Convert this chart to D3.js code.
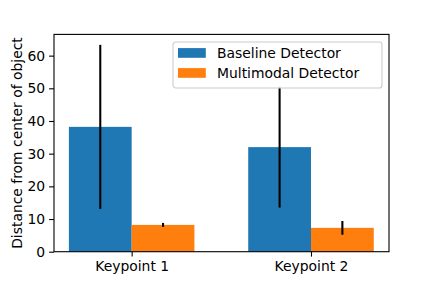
<!DOCTYPE html>
<html>
<head>
<meta charset="utf-8">
<script src="https://cdn.jsdelivr.net/npm/d3@7"></script>
<style>
  html, body { margin: 0; padding: 0; background: #fff; }
  svg { display: block; font-family: "DejaVu Sans", sans-serif; }
</style>
</head>
<body>
<svg id="chart" width="432" height="288"></svg>
<script>
	'use strict';

	//chart data
	var categories = ['Keypoint 1', 'Keypoint 2'],
		seriesNames = ['Baseline Detector', 'Multimodal Detector'],
		baselineMeans = [38.2, 32.0],
		baselineErrors = [25.1, 18.5],
		multimodalMeans = [8.2, 7.3],
		multimodalErrors = [0.6, 2.1],
		yTicks = [0, 10, 20, 30, 40, 50, 60],
		colors = ['#1f77b4', '#ff7f0e'];

	//layout
	var plotLeft = 54,
		plotRight = 389,
		plotTop = 34.4,
		plotBottom = 251.7,
		barWidth = 0.35,
		fontPx = 13.9;

	var svg = d3.select('#chart');

	var x = d3.scaleLinear().domain([-0.433, 1.435]).range([plotLeft, plotRight]),
		y = d3.scaleLinear().domain([0, 66.5]).range([plotBottom, plotTop]);

	var series = [
		{ name: seriesNames[0], means: baselineMeans, errs: baselineErrors, offset: -barWidth / 2, color: colors[0] },
		{ name: seriesNames[1], means: multimodalMeans, errs: multimodalErrors, offset: barWidth / 2, color: colors[1] }
	];

	//bars
	series.forEach(function(s) {
		svg.append('g').selectAll('rect')
			.data(s.means)
			.join('rect')
			.attr('x', function(d, i) { return x(i + s.offset - barWidth / 2); })
			.attr('width', x(barWidth) - x(0))
			.attr('y', function(d) { return y(d); })
			.attr('height', function(d) { return y(0) - y(d); })
			.attr('fill', s.color);
	});

	//error bars
	series.forEach(function(s) {
		svg.append('g').selectAll('line')
			.data(s.means)
			.join('line')
			.attr('x1', function(d, i) { return x(i + s.offset); })
			.attr('x2', function(d, i) { return x(i + s.offset); })
			.attr('y1', function(d, i) { return y(d - s.errs[i]); })
			.attr('y2', function(d, i) { return y(d + s.errs[i]); })
			.attr('stroke', '#000')
			.attr('stroke-width', 2.08);
	});

	//axes
	var xAxis = d3.axisBottom(x)
		.tickValues([0, 1])
		.tickFormat(function(d) { return categories[d]; })
		.tickSize(4.9).tickSizeOuter(0).tickPadding(4.5);

	var yAxis = d3.axisLeft(y)
		.tickValues(yTicks)
		.tickSize(4.9).tickSizeOuter(0).tickPadding(4);

	var gx = svg.append('g').attr('transform', 'translate(0,' + plotBottom + ')').call(xAxis);
	var gy = svg.append('g').attr('transform', 'translate(' + plotLeft + ',0)').call(yAxis);

	[gx, gy].forEach(function(g) {
		g.select('.domain').remove();
		g.selectAll('.tick line').attr('stroke', '#000').attr('stroke-width', 1.1);
		g.selectAll('.tick text')
			.attr('fill', '#000')
			.style('font-family', '"DejaVu Sans", sans-serif')
			.style('font-size', fontPx + 'px');
	});

	//frame
	svg.append('rect')
		.attr('x', plotLeft).attr('y', plotTop)
		.attr('width', plotRight - plotLeft).attr('height', plotBottom - plotTop)
		.attr('fill', 'none')
		.attr('stroke', '#000')
		.attr('stroke-width', 1.1);

	//y label
	svg.append('text')
		.attr('transform', 'translate(22,' + ((plotTop + plotBottom) / 2) + ') rotate(-90)')
		.attr('text-anchor', 'middle')
		.style('font-size', fontPx + 'px')
		.text('Distance from center of object');

	//legend
	var legend = svg.append('g').attr('transform', 'translate(173,42)');

	legend.append('rect')
		.attr('width', 209).attr('height', 46)
		.attr('rx', 2.8)
		.attr('fill', '#fff').attr('fill-opacity', 0.8)
		.attr('stroke', '#ccc').attr('stroke-width', 1.1);

	legend.selectAll('g.item')
		.data(series)
		.join('g')
		.attr('class', 'item')
		.attr('transform', function(d, i) { return 'translate(5,' + (11 + i * 20) + ')'; })
		.each(function(d) {
			var g = d3.select(this);
			g.append('rect')
				.attr('x', 0).attr('y', -4.9)
				.attr('width', 27.8).attr('height', 9.7)
				.attr('fill', d.color);
			g.append('text')
				.attr('x', 39).attr('y', 0)
				.attr('dy', '0.36em')
				.style('font-size', fontPx + 'px')
				.text(d.name);
		});
</script>
</body>
</html>
